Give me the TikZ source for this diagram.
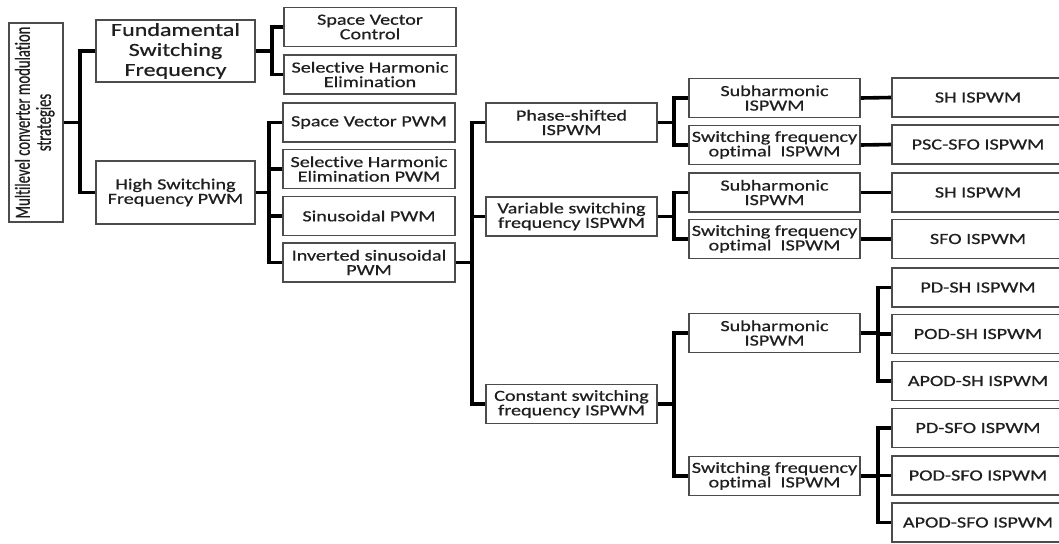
\documentclass[tikz,border=0pt]{standalone}
\usepackage{fontspec}
\setmainfont{Carlito}[FakeStretch=1.3, FakeBold=0.6, RawFeature={-liga}]
\newfontfamily\rootfont{Carlito}[FakeStretch=0.68, FakeBold=0.6, RawFeature={-liga}]
\begin{document}
\begin{tikzpicture}[x=1pt,y=-1pt,
  box/.style={draw=black!70, line width=1.9pt, align=center, inner sep=0pt,
    minimum height=39, text=black!88, font=\fontsize{15.5}{14.5}\selectfont},
  wa/.style={box, minimum width=159},
  wb/.style={box, minimum width=172},
  wc/.style={box, minimum width=171},
  wd/.style={box, minimum width=171},
  we/.style={box, minimum width=172},
  conn/.style={line width=3.6pt, line join=miter, black}]
\clip (0,0) rectangle (1059,543);
\fill[white] (0,0) rectangle (1059,543);
% root
\node[box, minimum width=54, minimum height=199] (root) at (36,122.5)
  {\rotatebox{90}{\rootfont\fontsize{21.5}{21}\selectfont\begin{tabular}{@{}c@{}}Multilevel converter modulation\\strategies\end{tabular}}};
% level 1
\node[wa, minimum height=62, font=\fontsize{18.5}{20}\selectfont] (fund) at (175.5,51) {Fundamental\\Switching\\Frequency};
\node[wa, minimum height=63] (hsf) at (175.5,192.5) {High Switching\\Frequency PWM};
% level 2
\node[wb] (svc) at (370,27) {Space Vector\\Control};
\node[wb] (she) at (370,74.5) {Selective Harmonic\\Elimination};
\node[wb] (svpwm) at (369,122.5) {Space Vector PWM};
\node[wb] (shepwm) at (369,169) {Selective Harmonic\\Elimination PWM};
\node[wb] (spwm) at (369,216) {Sinusoidal PWM};
\node[wb] (ispwm) at (369,262.5) {Inverted sinusoidal\\PWM};
% level 3
\node[wc] (phase) at (571.5,122.5) {Phase-shifted\\ISPWM};
\node[wc] (var) at (571.5,216.5) {Variable switching\\frequency ISPWM};
\node[wc] (const) at (571.5,404) {Constant switching\\frequency ISPWM};
% level 4
\node[wd] (sub1) at (774.5,98) {Subharmonic\\ISPWM};
\node[wd] (sfo1) at (774.5,145) {Switching frequency\\optimal\ \ ISPWM};
\node[wd] (sub2) at (774.5,192.5) {Subharmonic\\ISPWM};
\node[wd] (sfo2) at (774.5,239) {Switching frequency\\optimal\ \ ISPWM};
\node[wd] (sub3) at (774.5,333) {Subharmonic\\ISPWM};
\node[wd] (sfo3) at (774.5,476) {Switching frequency\\optimal\ \ ISPWM};
% level 5
\node[we] (l5a) at (978,97.5) {SH ISPWM};
\node[we] (l5b) at (978,144.5) {PSC-SFO ISPWM};
\node[we] (l5c) at (978,192.5) {SH ISPWM};
\node[we] (l5d) at (978,239) {SFO ISPWM};
\node[we] (l5e) at (978,287.5) {PD-SH ISPWM};
\node[we] (l5f) at (978,334) {POD-SH ISPWM};
\node[we] (l5g) at (978,381) {APOD-SH ISPWM};
\node[we] (l5h) at (978,428) {PD-SFO ISPWM};
\node[we] (l5i) at (978,475.5) {POD-SFO ISPWM};
\node[we] (l5j) at (978,522.5) {APOD-SFO ISPWM};
% connectors
\foreach \c in {fund,hsf} \draw[conn] (root.east) -- ++(16,0) |- (\c.west);
\foreach \c in {svc,she} \draw[conn] (fund.east) -- ++(16,0) |- (\c.west);
\foreach \c in {svpwm,shepwm,spwm,ispwm} \draw[conn] (hsf.east) -- ++(13,0) |- (\c.west);
\foreach \c in {phase,var,const} \draw[conn] (ispwm.east) -- ++(16,0) |- (\c.west);
\foreach \c in {sub1,sfo1} \draw[conn] (phase.east) -- ++(16,0) |- (\c.west);
\foreach \c in {sub2,sfo2} \draw[conn] (var.east) -- ++(16,0) |- (\c.west);
\foreach \c in {sub3,sfo3} \draw[conn] (const.east) -- ++(16,0) |- (\c.west);
\foreach \c in {l5e,l5f,l5g} \draw[conn] (sub3.east) -- ++(17,0) |- (\c.west);
\foreach \c in {l5h,l5i,l5j} \draw[conn] (sfo3.east) -- ++(17,0) |- (\c.west);
\draw[conn] (sub1.east) -- (l5a.west);
\draw[conn] (sfo1.east) -- (l5b.west);
\draw[conn] (sub2.east) -- (l5c.west);
\draw[conn] (sfo2.east) -- (l5d.west);
\end{tikzpicture}
\end{document}
